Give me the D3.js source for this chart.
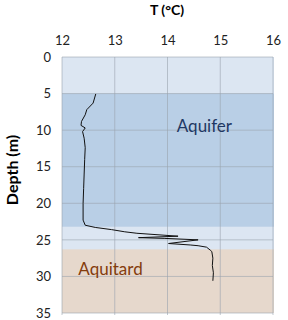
<!DOCTYPE html>
<html>
<head>
<meta charset="utf-8">
<script src="https://cdn.jsdelivr.net/npm/d3@7"></script>
<style>
  body { margin: 0; background: #fff; }
  text { font-family: Lato, "Open Sans", sans-serif; }
</style>
</head>
<body>
<div id="chart"></div>
<script>
// temperature profile
const depth = [5.05, 6.3, 7.2, 7.9, 8.8, 9.35, 9.7, 10.2, 11.1, 12.4, 14, 16, 18, 20, 22.3, 23.0,
  23.3, 23.6, 23.9, 24.1, 24.5, 24.7, 24.8, 25.0, 25.5, 25.7, 25.8, 26.0, 26.4, 26.6, 27.5, 28.5, 29.5, 30.6]
const temp = [12.64, 12.59, 12.47, 12.44, 12.37, 12.36, 12.44, 12.39, 12.42, 12.44, 12.43, 12.42, 12.41, 12.40, 12.40, 12.44,
  12.63, 12.94, 13.19, 13.42, 14.20, 13.45, 13.95, 14.58, 14.02, 14.43, 14.58, 14.74, 14.81, 14.84, 14.86, 14.85, 14.87, 14.86]

const xTicks = [12, 13, 14, 15, 16]
const yTicks = [0, 5, 10, 15, 20, 25, 30, 35]

// layers: [top, bottom, colour]
const bandTop = [0, 5, 26.3]
const bandBottom = [35, 23.2, 35]
const bandColor = ['#dce6f2', '#b9cfe6', '#e6d8cc']

let margin = {top: 57, right: 15, bottom: 7, left: 62},
    width = 288 - margin.left - margin.right,
    height = 320 - margin.top - margin.bottom

let svg = d3.select("#chart").append("svg")
    .attr("width", 288).attr("height", 320)
let g = svg.append("g").attr("transform", `translate(${margin.left},${margin.top})`)

let x = d3.scaleLinear().domain([12, 16]).range([0, width])
let y = d3.scaleLinear().domain([0, 35]).range([0, height])

g.selectAll("rect.band")
  .data(bandTop.map((t, i) => ({top: t, bottom: bandBottom[i], color: bandColor[i]})))
  .join("rect")
  .attr("class", "band")
  .attr("x", x(12)).attr("width", x(16) - x(12) + 1)
  .attr("y", d => y(d.top)).attr("height", d => y(d.bottom) - y(d.top))
  .attr("fill", d => d.color)

// grid
g.selectAll("line.vg").data(xTicks).join("line")
  .attr("x1", d => x(d)).attr("x2", d => x(d))
  .attr("y1", 0).attr("y2", height + 2)
  .attr("stroke", "#9aa3ad").attr("stroke-opacity", 0.6)
g.selectAll("line.hg").data(yTicks).join("line")
  .attr("x1", 0).attr("x2", width)
  .attr("y1", d => y(d)).attr("y2", d => y(d))
  .attr("stroke", "#9aa3ad").attr("stroke-opacity", 0.6)

// axes (labels only)
let xAxis = g.append("g").call(d3.axisTop(x).tickValues(xTicks).tickFormat(d3.format("d")).tickSize(0).tickPadding(12))
let yAxis = g.append("g").call(d3.axisLeft(y).tickValues(yTicks).tickFormat(d3.format("d")).tickSize(0).tickPadding(11))
for (let a of [xAxis, yAxis]) {
  a.select(".domain").remove()
  a.selectAll("text").attr("font-size", 13).attr("fill", "#222")
    .style("font-family", "Lato, sans-serif")
}

// profile
let line = d3.line().x((d, i) => x(temp[i])).y(d => y(d))
g.append("path").datum(depth)
  .attr("d", line)
  .attr("fill", "none")
  .attr("stroke", "#111")
  .attr("stroke-width", 1)

g.append("text").text("Aquifer")
  .attr("x", x(14.7)).attr("y", y(10.2))
  .attr("text-anchor", "middle").attr("font-size", 17).attr("fill", "#1f3864")
g.append("text").text("Aquitard")
  .attr("x", x(12.31)).attr("y", y(29.8))
  .attr("font-size", 17).attr("fill", "#843c0c")

svg.append("text").text("T (°C)")
  .attr("x", 167).attr("y", 15)
  .attr("text-anchor", "middle").attr("font-size", 14).attr("font-weight", "bold")
svg.append("text").text("Depth (m)")
  .attr("transform", "translate(18,170) rotate(-90)")
  .attr("text-anchor", "middle").attr("font-size", 16).attr("font-weight", "bold")
</script>
</body>
</html>
